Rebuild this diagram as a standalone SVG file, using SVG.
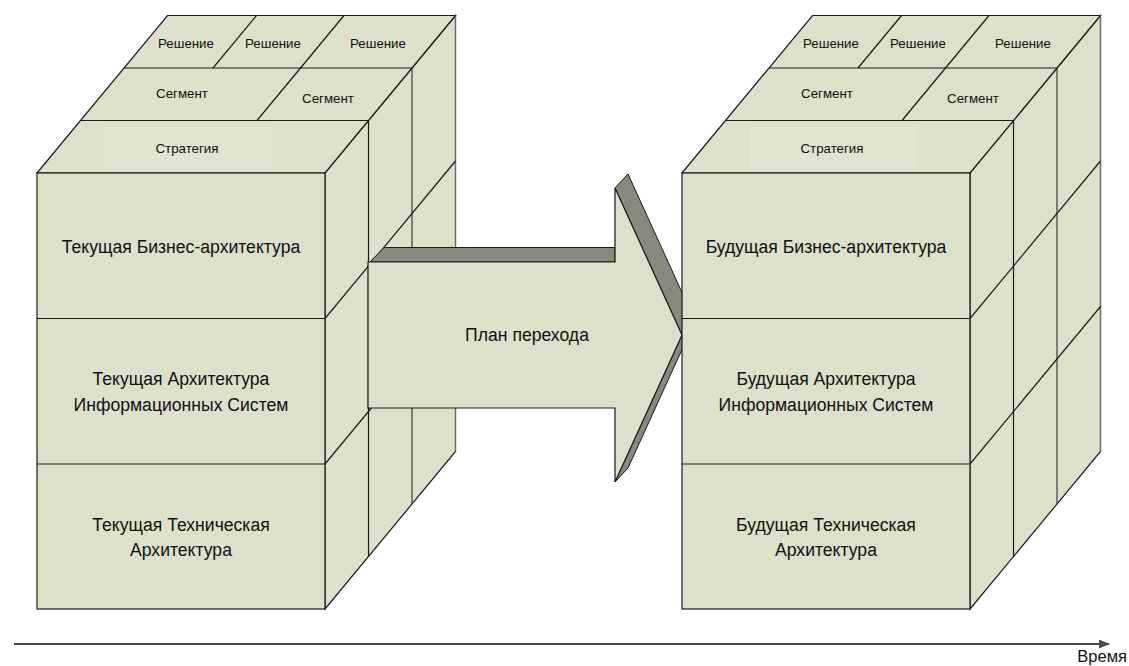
<svg xmlns="http://www.w3.org/2000/svg" xmlns:xlink="http://www.w3.org/1999/xlink" width="1129" height="666" viewBox="0 0 1129 666">
  <style>
    .face { fill: #DDE0CB; stroke: #1a1a1a; stroke-width: 1.2; stroke-linejoin: miter; }
    .ln { fill: none; stroke: #1a1a1a; stroke-width: 1.2; }
    .ln2 { fill: none; stroke: #3a3a3a; stroke-width: 1.2; }
    .ln3 { fill: none; stroke: #6a6a6a; stroke-width: 1.2; }
    .hl { fill: #E1E4D1; stroke: none; }
    .dark { fill: #868A7C; stroke: #1a1a1a; stroke-width: 1; stroke-linejoin: round; }
    .sm { font-family: "Liberation Sans", Arial, sans-serif; font-size: 13.3px; fill: #111; text-anchor: middle; }
    .lg { font-family: "Liberation Sans", Arial, sans-serif; font-size: 17.6px; fill: #111; text-anchor: middle; }
    .axis { stroke: #4a4a4a; stroke-width: 2; fill: none; }
  </style>
  <defs>
    <marker id="axisHead" markerWidth="11" markerHeight="10" refX="10" refY="4.5" orient="auto" markerUnits="userSpaceOnUse">
      <path d="M0,0 L11,4.5 L0,9 Z" fill="#4a4a4a"/>
    </marker>
    <g id="cubeShape">
      <polygon class="face" points="325,173 455.5,15.5 455.5,451.5 325,609"/>
      <polygon class="face" points="37,173 167.5,15.5 455.5,15.5 325,173"/>
      <rect class="hl" x="105" y="127" width="166" height="41"/>
      <line class="ln" x1="80.5" y1="120.5" x2="368.5" y2="120.5"/>
      <line class="ln" x1="124" y1="68" x2="412" y2="68"/>
      <polyline class="ln" points="257,120.5 300.5,68 344,15.5"/>
      <line class="ln" x1="213" y1="68" x2="256.5" y2="15.5"/>
      <line class="ln" x1="368.5" y1="120.5" x2="368.5" y2="556.5"/>
      <line class="ln2" x1="412" y1="68" x2="412" y2="504"/>
      <line class="ln3" x1="455.5" y1="15.5" x2="455.5" y2="451.5"/>
      <line class="ln" x1="325" y1="318.5" x2="455.5" y2="161"/>
      <line class="ln" x1="325" y1="464" x2="455.5" y2="306.5"/>
      <rect class="face" x="37" y="173" width="288" height="436"/>
      <line class="ln" x1="37" y1="318.5" x2="325" y2="318.5"/>
      <line class="ln" x1="37" y1="464" x2="325" y2="464"/>
    </g>
  </defs>

  <!-- Left cube: current architecture -->
  <g id="current-cube">
    <use xlink:href="#cubeShape"/>
    <g id="current-solution-1"><text class="sm" x="186" y="47.5">Решение</text></g>
    <g id="current-solution-2"><text class="sm" x="273" y="47.5">Решение</text></g>
    <g id="current-solution-3"><text class="sm" x="378" y="47.5">Решение</text></g>
    <g id="current-segment-1"><text class="sm" x="182" y="97.5">Сегмент</text></g>
    <g id="current-segment-2"><text class="sm" x="328" y="102.5">Сегмент</text></g>
    <g id="current-strategy"><text class="sm" x="187" y="152.5">Стратегия</text></g>
    <g id="current-business"><text class="lg" x="181" y="253">Текущая Бизнес-архитектура</text></g>
    <g id="current-is">
      <text class="lg" x="181" y="385">Текущая Архитектура</text>
      <text class="lg" x="181" y="411">Информационных Систем</text>
    </g>
    <g id="current-tech">
      <text class="lg" x="181" y="531">Текущая Техническая</text>
      <text class="lg" x="181" y="556">Архитектура</text>
    </g>
  </g>

  <!-- Transition arrow -->
  <g id="transition-plan">
    <polygon class="dark" points="370,262 384,247.5 615,247.5 615,262"/>
    <polygon class="dark" points="615,188 628,174 695,321 682,335"/>
    <polygon class="dark" points="682,335 695,321 628,468 615,482"/>
    <polygon class="face" points="368,262 615,262 615,188 682,335 615,482 615,408 368,408"/>
    <text class="lg" x="527" y="341">План перехода</text>
  </g>

  <!-- Right cube: future architecture -->
  <g id="future-cube">
    <use xlink:href="#cubeShape" transform="translate(645,0)"/>
    <g id="future-solution-1"><text class="sm" x="831" y="47.5">Решение</text></g>
    <g id="future-solution-2"><text class="sm" x="918" y="47.5">Решение</text></g>
    <g id="future-solution-3"><text class="sm" x="1023" y="47.5">Решение</text></g>
    <g id="future-segment-1"><text class="sm" x="827" y="97.5">Сегмент</text></g>
    <g id="future-segment-2"><text class="sm" x="973" y="102.5">Сегмент</text></g>
    <g id="future-strategy"><text class="sm" x="832" y="152.5">Стратегия</text></g>
    <g id="future-business"><text class="lg" x="826" y="253">Будущая Бизнес-архитектура</text></g>
    <g id="future-is">
      <text class="lg" x="826" y="385">Будущая Архитектура</text>
      <text class="lg" x="826" y="411">Информационных Систем</text>
    </g>
    <g id="future-tech">
      <text class="lg" x="826" y="531">Будущая Техническая</text>
      <text class="lg" x="826" y="556">Архитектура</text>
    </g>
  </g>

  <!-- Connectors: time axis -->
  <g id="connectors">
    <line class="axis" x1="14" y1="644" x2="1109" y2="644" marker-end="url(#axisHead)"/>
    <text x="1127" y="662" font-family="'Liberation Sans', Arial, sans-serif" font-size="16.5px" fill="#111" text-anchor="end">Время</text>
  </g>
</svg>
